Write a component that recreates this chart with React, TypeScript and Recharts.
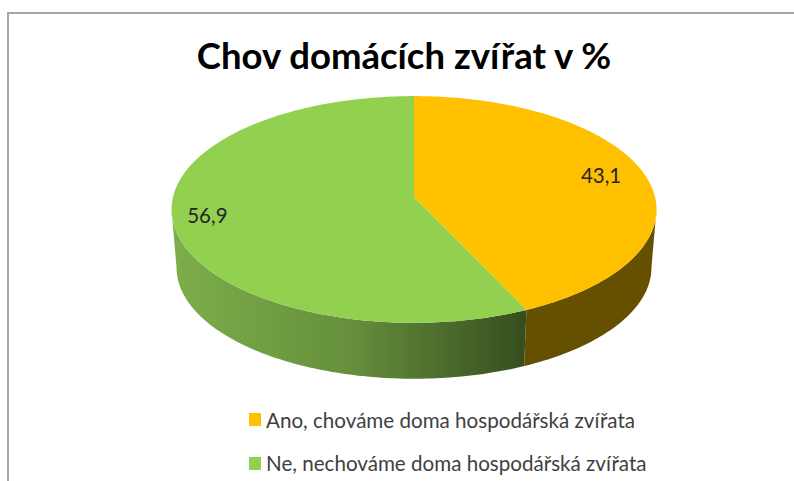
import { Legend, Pie, PieChart } from 'recharts';

const categories = [
  'Ano, chováme doma hospodářská zvířata',
  'Ne, nechováme doma hospodářská zvířata',
];
const values = [43.1, 56.9];
const sliceColors = ['#FFC000', '#92D050'];
const wallColors = ['#655000', 'url(#greenWall)'];
const labelInset = [0.81, 0.86];

const pieData = categories.map((name, i) => ({
  name,
  value: values[i],
  fill: sliceColors[i],
}));

const FONT = 'Lato, sans-serif';

// fake perspective of the old 3d pie: far edge is squashed, near edge is stretched
const TILT = -0.11;
const SQUASH = 112 / 241;
const DEPTH = 58.5;
const BASE_SHRINK = 236 / 241;
const WALL_FROM = 96.3;
const WALL_TO = 263.7;

const project = (cx: number, cy: number, r: number, deg: number, f = 1) => {
  const t = (deg * Math.PI) / 180;
  const u = f * Math.sin(t);
  const v = -f * Math.cos(t);
  const d = 1 + TILT * v;
  return [cx + (r * u) / d, cy + (r * SQUASH * v) / d];
};

const arcPoints = (cx: number, cy: number, r: number, from: number, to: number) => {
  const pts = [];
  for (let a = from; a < to; a += 1) pts.push(project(cx, cy, r, a));
  pts.push(project(cx, cy, r, to));
  return pts;
};

const toPath = (pts: number[][]) =>
  pts.map((p, i) => `${i ? 'L' : 'M'}${p[0].toFixed(2)} ${p[1].toFixed(2)}`).join(' ') + ' Z';

const Slice3d = (props: any) => {
  const { cx, cy, outerRadius, startAngle, endAngle, fill, name } = props;
  const from = 90 - startAngle;
  const to = 90 - endAngle;
  const wallFrom = Math.max(from, WALL_FROM);
  const wallTo = Math.min(to, WALL_TO);
  const wall = wallColors[categories.indexOf(name)];
  const top = arcPoints(cx, cy, outerRadius, wallFrom, wallTo);
  const base = arcPoints(cx, cy + DEPTH, outerRadius * BASE_SHRINK, wallFrom, wallTo).reverse();
  return (
    <g>
      {wallTo > wallFrom && <path d={toPath([...top, ...base])} fill={wall} />}
      <path d={toPath([[cx, cy], ...arcPoints(cx, cy, outerRadius, from, to)])} fill={fill} />
    </g>
  );
};

const sliceLabel = (props: any) => {
  const { cx, cy, outerRadius, midAngle, value, index } = props;
  const [x, y] = project(cx, cy, outerRadius, 90 - midAngle, labelInset[index]);
  return (
    <text
      x={x}
      y={y - 3}
      textAnchor="middle"
      dominantBaseline="central"
      fontFamily={FONT}
      fontSize={20.5}
      fill="#262626"
    >
      {String(value).replace('.', ',')}
    </text>
  );
};

const legendContent = (props: any) => (
  <div style={{ fontFamily: FONT, fontSize: 20.6, color: '#404040' }}>
    {props.payload.map((item: any) => (
      <div key={item.value} style={{ display: 'flex', alignItems: 'center', height: 43.5 }}>
        <span style={{ width: 12, height: 13, background: item.color, marginRight: 5 }} />
        {item.value}
      </div>
    ))}
  </div>
);

export default function App() {
  return (
    <div style={{ position: 'absolute', left: 0, top: 0, width: 794, height: 481, overflow: 'hidden', background: '#fff' }}>
      <div
        style={{
          position: 'absolute',
          left: 7,
          top: 12,
          right: 0,
          bottom: 0,
          borderLeft: '2px solid #a6a6a6',
          borderTop: '2px solid #a6a6a6',
        }}
      />
      <div
        style={{
          position: 'absolute',
          left: 0,
          top: 33,
          width: 808,
          textAlign: 'center',
          fontFamily: FONT,
          fontWeight: 700,
          fontSize: 36.5,
          color: '#000',
        }}
      >
        Chov domácích zvířat v %
      </div>
      <PieChart width={794} height={481} margin={{ top: 0, right: 0, bottom: 0, left: 0 }} style={{ position: 'absolute', left: 0, top: 0 }}>
        <defs>
          <linearGradient id="greenWall" gradientUnits="userSpaceOnUse" x1="172" y1="0" x2="529" y2="0">
            <stop offset="0" stopColor="#7DAE4A" />
            <stop offset="0.5" stopColor="#658F3C" />
            <stop offset="1" stopColor="#354C1E" />
          </linearGradient>
        </defs>
        <Pie
          data={pieData}
          dataKey="value"
          nameKey="name"
          cx={414}
          cy={197}
          outerRadius={241}
          startAngle={90}
          endAngle={-270}
          shape={Slice3d}
          label={sliceLabel}
          labelLine={false}
          stroke="none"
          isAnimationActive={false}
        />
        <Legend
          content={legendContent}
          wrapperStyle={{ position: 'absolute', left: 249, top: 398, width: 500, bottom: 'auto' }}
        />
      </PieChart>
    </div>
  );
}
